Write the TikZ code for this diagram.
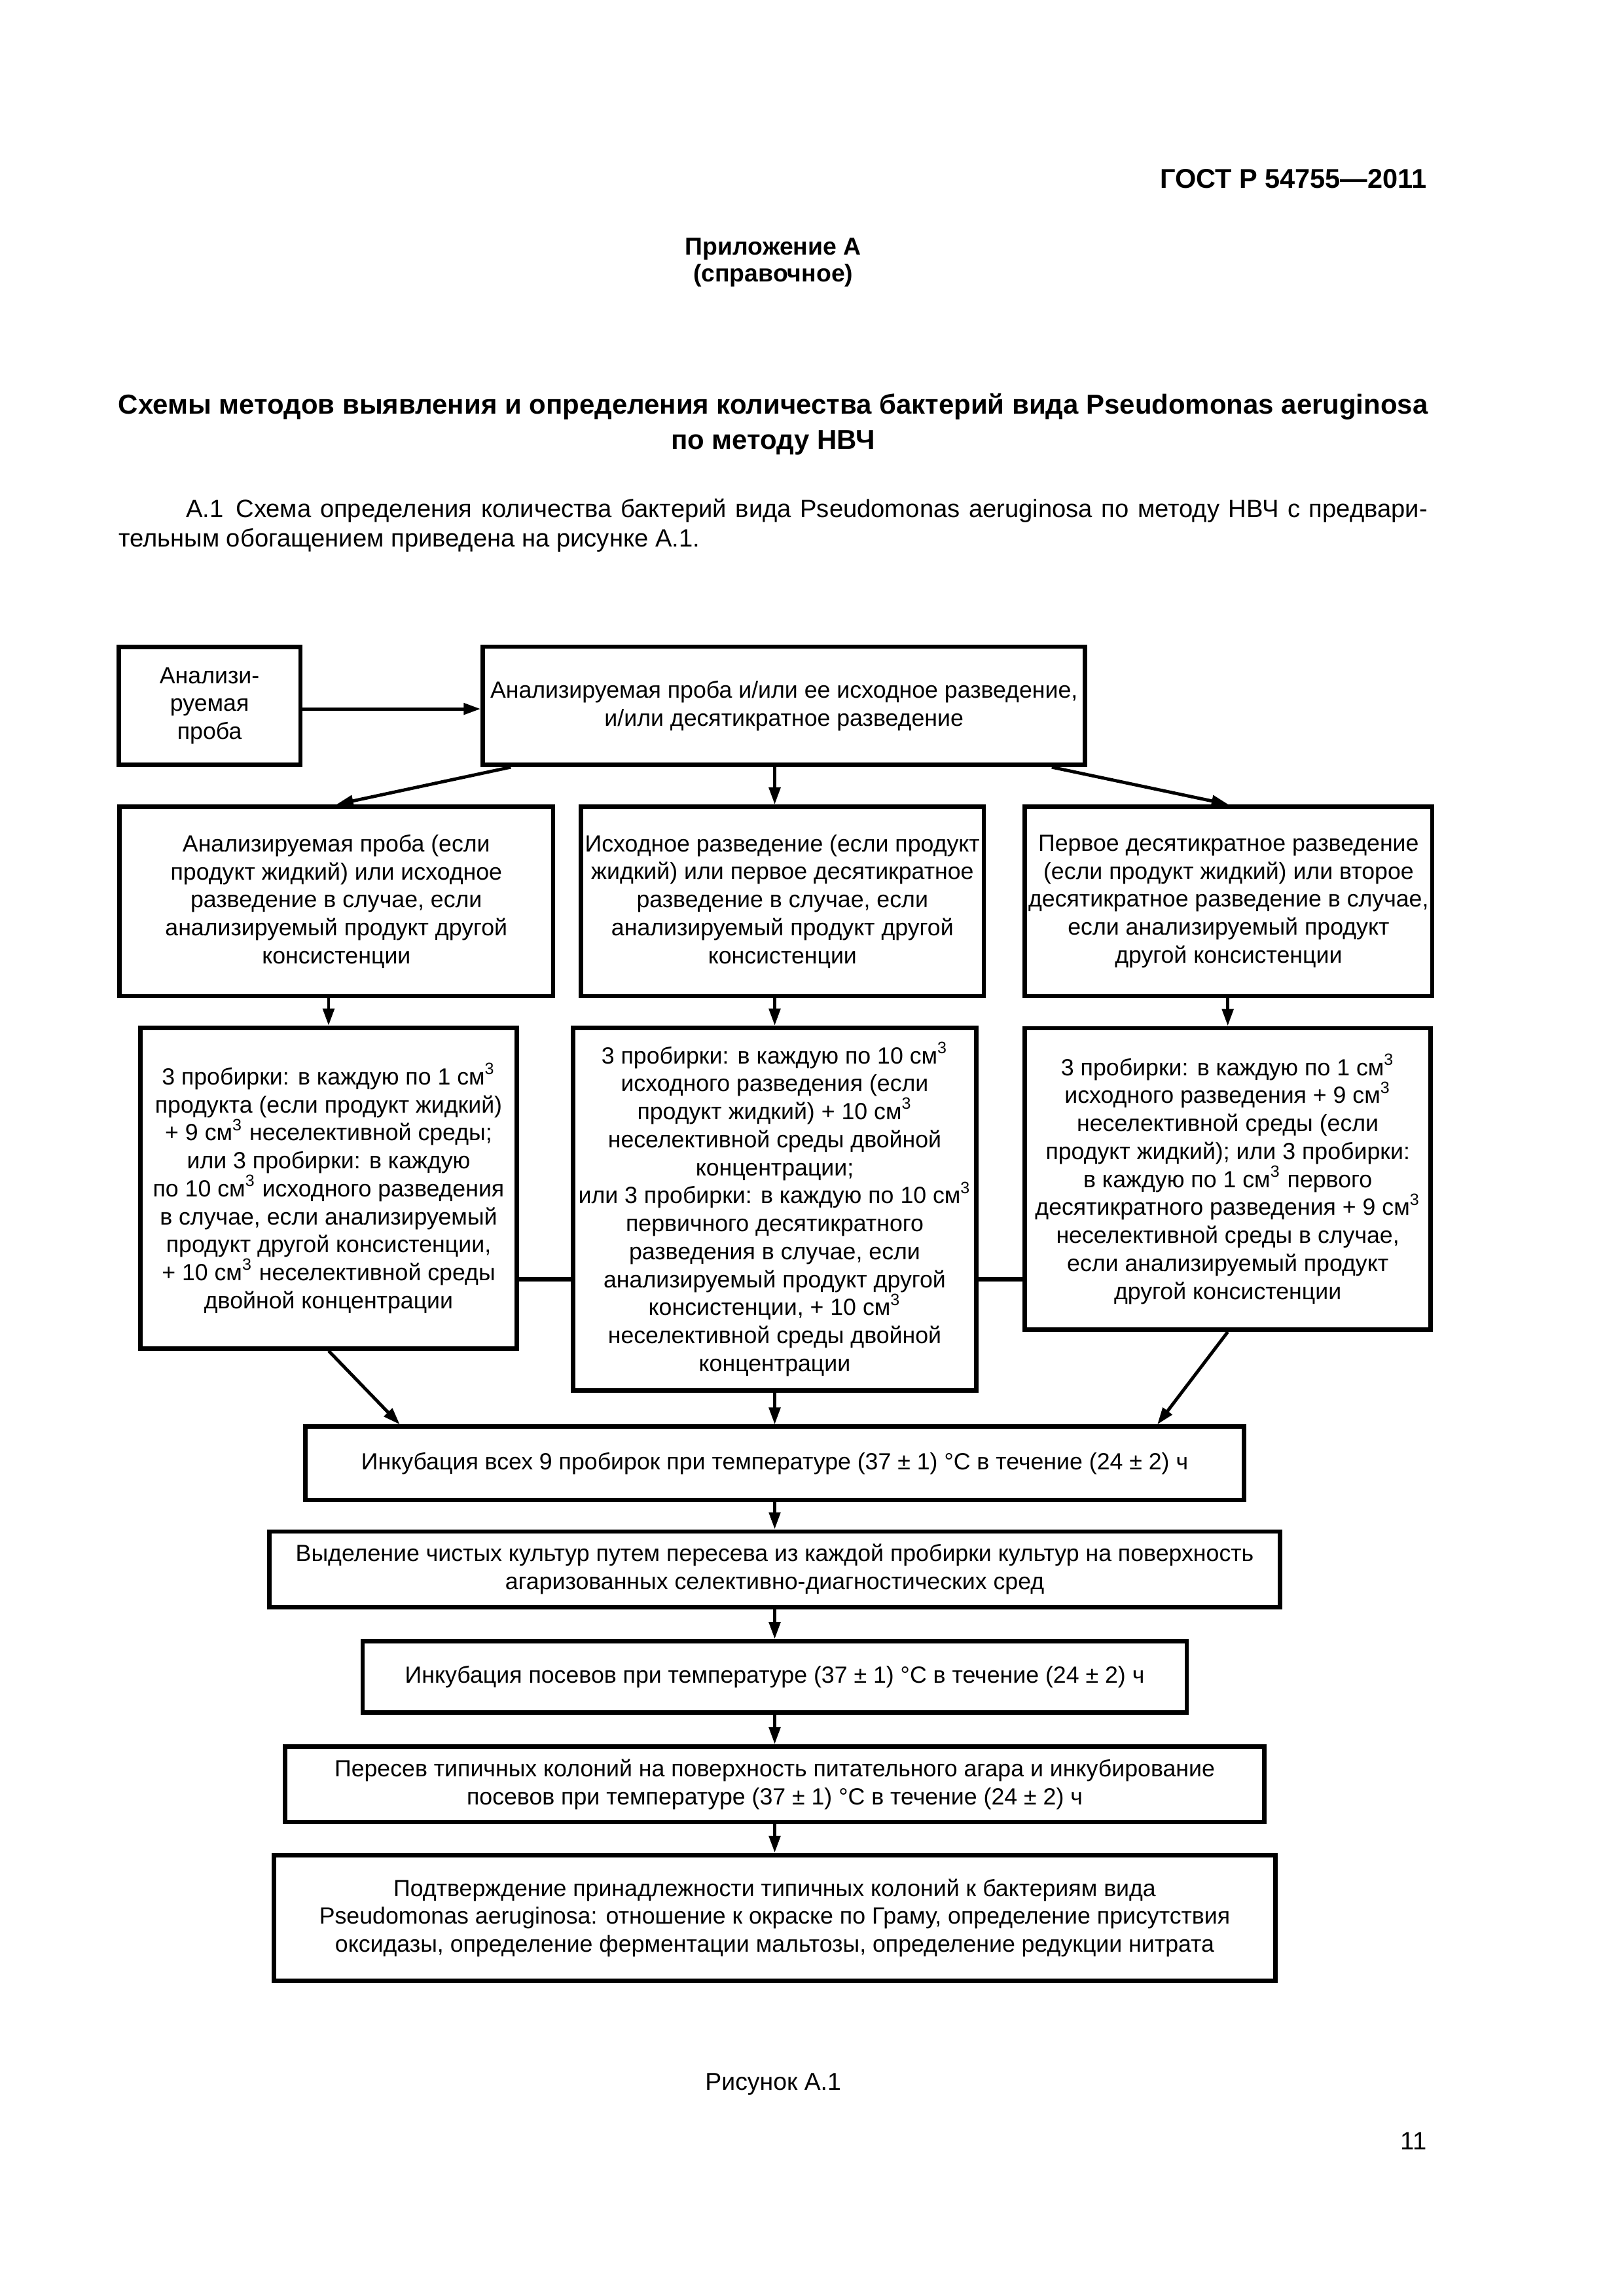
\documentclass[tikz,border=0pt]{standalone}
\usepackage{fontspec}
\setmainfont{Liberation Sans}
\usetikzlibrary{arrows.meta}
\newcommand{\flowfont}{\fontsize{8.6}{10.3}\selectfont}
\newcommand{\cmc}{см\textsuperscript{3}}
\begin{document}
\begin{tikzpicture}[
  box/.style={draw, line width=0.57mm, align=center, inner sep=0pt, font=\flowfont},
  arr/.style={line width=0.42mm, -{Triangle[length=2.2mm,width=1.45mm]}},
  link/.style={line width=0.57mm},
  head/.style={font=\bfseries\fontsize{9}{12}\selectfont, inner sep=0pt},
  plain/.style={font=\fontsize{9.2}{10.8}\selectfont, inner sep=0pt}
]
\fill[white] (0,0) rectangle (21 cm,-29.7 cm);
\useasboundingbox (0,0) rectangle (21 cm,-29.7 cm);
\node[head, font=\bfseries\fontsize{10}{12}\selectfont, anchor=east] (gost) at (18.46 cm,-2.31 cm) {ГОСТ Р 54755—2011};
\node[head] (annex) at (10 cm,-3.22 cm) {Приложение А};
\node[head] (kind) at (10 cm,-3.56 cm) {(справочное)};
\node[head, font=\bfseries\fontsize{10.1}{12.9}\selectfont, align=center] (title) at (10 cm,-5.49 cm)
  {Схемы методов выявления и определения количества бактерий вида Pseudomonas aeruginosa\\по методу НВЧ};
\node[plain, text width=16.93 cm, align=justify] (intro) at (10 cm,-6.80 cm)
  {\hspace*{0.87cm}А.1\enspace Схема определения количества бактерий вида Pseudomonas aeruginosa по методу НВЧ с предвари-\linebreak тельным обогащением приведена на рисунке А.1.};

\node[box, minimum width=2.35cm, minimum height=1.52cm] (sample) at (2.71,-9.13) {Анализи-\\руемая\\проба};
\node[box, minimum width=7.79cm, minimum height=1.53cm] (prep) at (10.14,-9.13)
  {Анализируемая проба и/или ее исходное разведение,\\и/или десятикратное разведение};

\node[box, minimum width=5.61cm, minimum height=2.45cm] (liq1) at (4.35,-11.66)
  {Анализируемая проба (если\\продукт жидкий) или исходное\\разведение в случае, если\\анализируемый продукт другой\\консистенции};
\node[box, minimum width=5.21cm, minimum height=2.45cm] (liq2) at (10.12,-11.66)
  {Исходное разведение (если продукт\\жидкий) или первое десятикратное\\разведение в случае, если\\анализируемый продукт другой\\консистенции};
\node[box, minimum width=5.27cm, minimum height=2.45cm] (liq3) at (15.89,-11.66)
  {Первое десятикратное разведение\\(если продукт жидкий) или второе\\десятикратное разведение в случае,\\если анализируемый продукт\\другой консистенции};

\node[box, minimum width=4.87cm, minimum height=4.15cm] (tube1) at (4.25,-15.37)
  {3 пробирки: в каждую по 1 \cmc\\продукта (если продукт жидкий)\\+ 9 \cmc{} неселективной среды;\\или 3 пробирки: в каждую\\по 10 \cmc{} исходного разведения\\в случае, если анализируемый\\продукт другой консистенции,\\+ 10 \cmc{} неселективной среды\\двойной концентрации};
\node[box, minimum width=5.22cm, minimum height=4.69cm] (tube2) at (10.02,-15.64)
  {3 пробирки: в каждую по 10 \cmc\\исходного разведения (если\\продукт жидкий) + 10 \cmc\\неселективной среды двойной\\концентрации;\\или 3 пробирки: в каждую по 10 \cmc\\первичного десятикратного\\разведения в случае, если\\анализируемый продукт другой\\консистенции, + 10 \cmc\\неселективной среды двойной\\концентрации};
\node[box, minimum width=5.25cm, minimum height=3.90cm] (tube3) at (15.88,-15.25)
  {3 пробирки: в каждую по 1 \cmc\\исходного разведения + 9 \cmc\\неселективной среды (если\\продукт жидкий); или 3 пробирки:\\в каждую по 1 \cmc{} первого\\десятикратного разведения + 9 \cmc\\неселективной среды в случае,\\если анализируемый продукт\\другой консистенции};

\node[box, minimum width=12.14cm, minimum height=0.95cm] (incub1) at (10.02,-18.93)
  {Инкубация всех 9 пробирок при температуре (37 ± 1) °C в течение (24 ± 2) ч};
\node[box, minimum width=13.07cm, minimum height=0.98cm] (isol) at (10.02,-20.30)
  {Выделение чистых культур путем пересева из каждой пробирки культур на поверхность\\агаризованных селективно-диагностических сред};
\node[box, minimum width=10.66cm, minimum height=0.92cm] (incub2) at (10.02,-21.69)
  {Инкубация посевов при температуре (37 ± 1) °C в течение (24 ± 2) ч};
\node[box, minimum width=12.67cm, minimum height=0.98cm] (subcult) at (10.02,-23.08)
  {Пересев типичных колоний на поверхность питательного агара и инкубирование\\посевов при температуре (37 ± 1) °C в течение (24 ± 2) ч};
\node[box, minimum width=12.95cm, minimum height=1.63cm] (confirm) at (10.02,-24.81)
  {Подтверждение принадлежности типичных колоний к бактериям вида\\Pseudomonas aeruginosa: отношение к окраске по Граму, определение присутствия\\оксидазы, определение ферментации мальтозы, определение редукции нитрата};

\draw[arr] ([yshift=-0.4mm]sample.east) -- ([yshift=-0.4mm]prep.west);
\draw[arr] ([xshift=3.9mm]prep.south west) -- (liq1.north);
\draw[arr] (prep.south -| tube2) -- (liq2.north -| tube2);
\draw[arr] ([xshift=-4.6mm]prep.south east) -- (liq3.north);
\draw[arr] (liq1.south -| tube1) -- (tube1.north);
\draw[arr] (liq2.south -| tube2) -- (tube2.north);
\draw[arr] (liq3.south -| tube3) -- (tube3.north);
\coordinate (bridge) at (0,-16.55);
\draw[link] (tube1.east |- bridge) -- (tube2.west |- bridge);
\draw[link] (tube2.east |- bridge) -- (tube3.west |- bridge);
\draw[arr] (tube1.south) -- ([xshift=1.25cm]incub1.north west);
\draw[arr] (tube2.south) -- (incub1.north -| tube2);
\draw[arr] (tube3.south) -- ([xshift=-1.15cm]incub1.north east);
\foreach \a/\b in {incub1/isol, isol/incub2, incub2/subcult, subcult/confirm}
  \draw[arr] (\a) -- (\b);

\node[plain, font=\fontsize{9}{10.8}\selectfont] (caption) at (10 cm,-26.96 cm) {Рисунок А.1};
\node[plain, anchor=east] (page) at (18.46 cm,-27.70 cm) {11};
\end{tikzpicture}
\end{document}
